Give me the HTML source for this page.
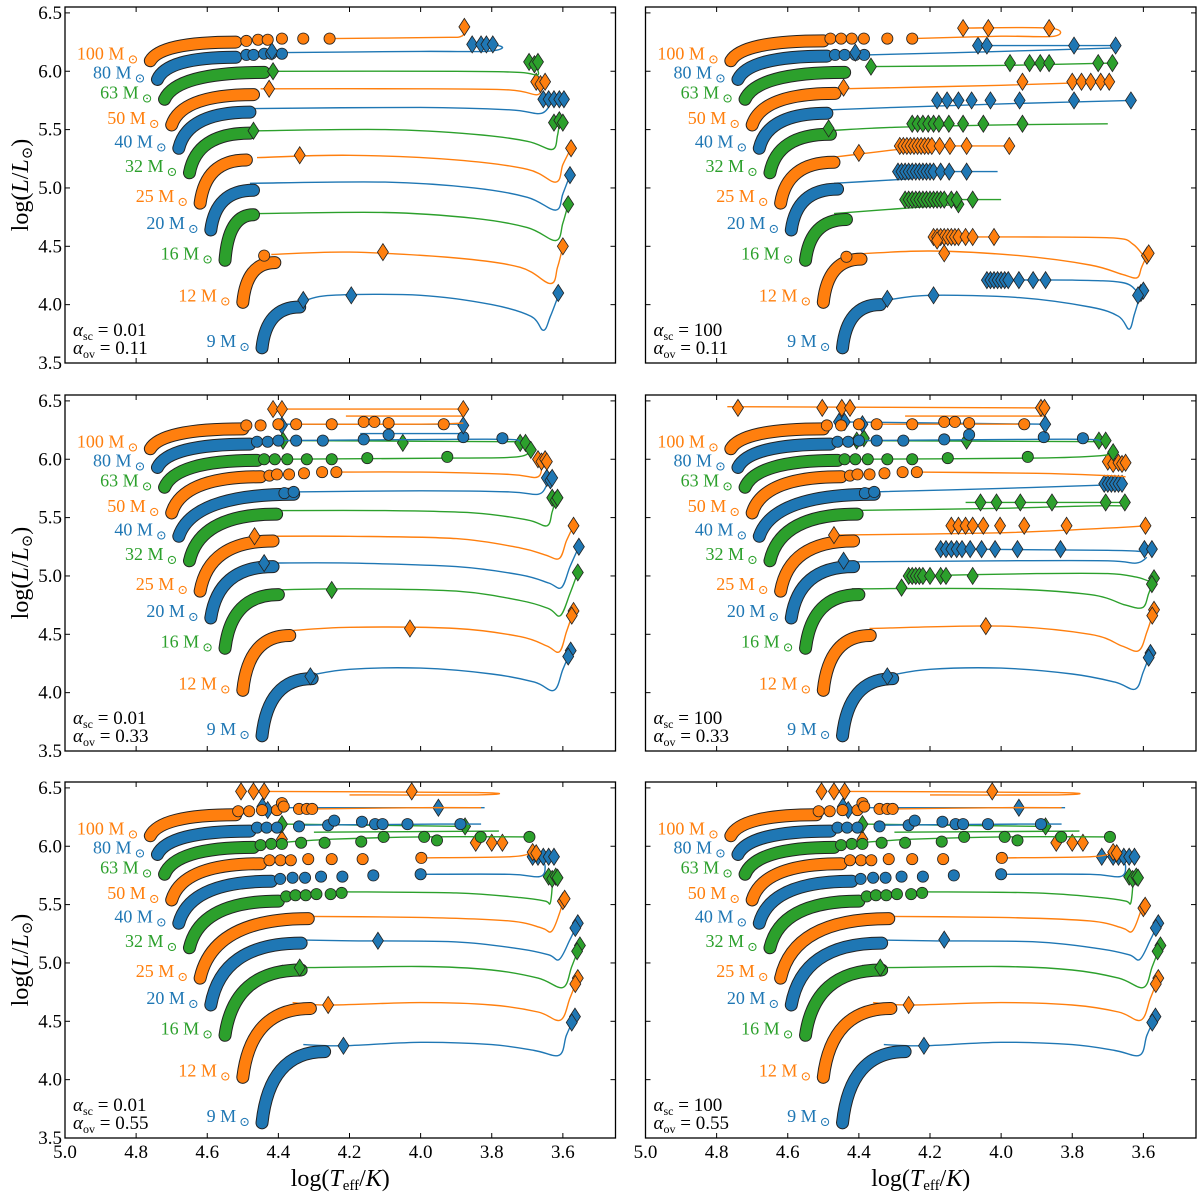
<!DOCTYPE html>
<html><head><meta charset="utf-8"><title>HR diagram grid</title>
<style>
html,body{margin:0;padding:0;background:#fff;}
svg{display:block;font-family:"Liberation Serif","DejaVu Serif",serif;}
</style></head>
<body>
<svg id="fig" width="1200" height="1194" viewBox="0 0 1200 1194" xmlns="http://www.w3.org/2000/svg"></svg>
<script>
// ---------- data ----------
const masses = [9,12,16,20,25,32,40,50,63,80,100];
const colors = ["#1f77b4","#ff7f0e","#2ca02c"];
const xTicks = [5.0,4.8,4.6,4.4,4.2,4.0,3.8,3.6];
const xTickLabels = ["5.0","4.8","4.6","4.4","4.2","4.0","3.8","3.6"];
const yTicks = [3.5,4.0,4.5,5.0,5.5,6.0,6.5];
const yTickLabels = ["3.5","4.0","4.5","5.0","5.5","6.0","6.5"];
const zams = [[4.446,3.63],[4.50,4.02],[4.55,4.38],[4.59,4.64],[4.62,4.87],[4.65,5.13],[4.68,5.34],[4.70,5.54],[4.72,5.76],[4.74,5.93],[4.76,6.09]];
const panelSc = ["0.01","100","0.01","100","0.01","100"];
const panelOv = ["0.11","0.11","0.33","0.33","0.55","0.55"];

// Panel A: sc 0.01, ov 0.11
const A_end = [[4.34,3.98],[4.41,4.36],[4.47,4.77],[4.47,4.98],[4.49,5.24],[4.48,5.47],[4.48,5.65],[4.47,5.80],[4.44,5.99],[4.52,6.12],[4.52,6.25]];
const A_paths = [
 [[[4.33,4.03],[4.25,4.08],[4.0,4.08],[3.8,4.0],[3.69,3.9],[3.655,3.78],[3.635,3.90],[3.61,4.10]]],
 [[[4.42,4.43],[4.2,4.45],[3.9,4.40],[3.72,4.32],[3.635,4.18],[3.615,4.32],[3.60,4.50]]],
 [[[4.46,4.78],[4.1,4.79],[3.85,4.74],[3.70,4.66],[3.62,4.55],[3.60,4.70],[3.585,4.86]]],
 [[[4.48,5.04],[4.1,5.05],[3.85,5.0],[3.70,4.92],[3.62,4.81],[3.60,4.95],[3.58,5.11]]],
 [[[4.46,5.26],[4.2,5.28],[3.9,5.24],[3.7,5.16],[3.62,5.05],[3.60,5.2],[3.577,5.34]]],
 [[[4.47,5.49],[4.1,5.50],[3.85,5.46],[3.70,5.40],[3.63,5.33],[3.615,5.45],[3.61,5.57]]],
 [[[4.48,5.68],[4.0,5.69],[3.75,5.67],[3.66,5.64],[3.63,5.76]]],
 [[[4.45,5.85],[4.0,5.85],[3.75,5.84],[3.67,5.80],[3.663,5.91]]],
 [[[4.42,6.0],[3.9,6.0],[3.72,5.99],[3.67,5.97],[3.68,6.07]]],
 [[[4.38,6.16],[4.0,6.17],[3.82,6.17],[3.77,6.20],[3.80,6.23],[3.87,6.23]]],
 [[[4.25,6.28],[3.95,6.29],[3.885,6.30],[3.877,6.38]]]
];
const A_circ = [[],[[4.44,4.42]],[],[],[],[],[],[],[],
 [[4.49,6.14],[4.47,6.14],[4.44,6.15],[4.42,6.15],[4.39,6.15]],
 [[4.49,6.26],[4.457,6.27],[4.43,6.27],[4.39,6.28],[4.33,6.28],[4.256,6.28]]];
const A_dia = [
 [[4.33,4.04],[4.195,4.08],[3.613,4.10]],
 [[4.106,4.45],[3.60,4.50]],
 [[3.585,4.86]],
 [[3.58,5.11]],
 [[4.34,5.28],[3.577,5.34]],
 [[4.47,5.49],[3.625,5.56],[3.61,5.58],[3.60,5.56]],
 [[3.655,5.76],[3.64,5.76],[3.625,5.76],[3.61,5.76],[3.597,5.76]],
 [[4.426,5.85],[3.675,5.91],[3.663,5.89],[3.65,5.91]],
 [[4.415,6.0],[3.695,6.08],[3.68,6.06],[3.67,6.08]],
 [[4.418,6.17],[3.855,6.23],[3.83,6.23],[3.815,6.23],[3.797,6.23]],
 [[3.877,6.38]]
];

// Panel B: sc 100, ov 0.11
const B_end = [[4.34,4.0],[4.394,4.39],[4.435,4.73],[4.46,4.99],[4.47,5.22],[4.48,5.46],[4.49,5.64],[4.467,5.81],[4.44,5.99],[4.49,6.13],[4.50,6.26]];
const B_paths = [
 [[[4.32,4.04],[4.2,4.08],[3.95,4.06],[3.75,3.98],[3.67,3.90],[3.64,3.79],[3.625,3.92],[3.607,4.10]],[[4.05,4.21],[3.80,4.21],[3.66,4.19],[3.62,4.12]]],
 [[[4.43,4.43],[4.2,4.46],[3.95,4.42],[3.75,4.34],[3.66,4.26],[3.618,4.23],[3.605,4.32],[3.59,4.42]],[[4.19,4.58],[3.9,4.58],[3.68,4.57],[3.63,4.52],[3.60,4.42]]],
 [[[4.47,4.78],[4.3,4.82],[4.12,4.86]],[[4.27,4.90],[4.0,4.90]]],
 [[[4.47,5.04],[4.3,5.07],[4.25,5.08]],[[4.29,5.14],[4.01,5.14]]],
 [[[4.48,5.26],[4.40,5.29],[4.29,5.33]],[[4.29,5.36],[3.97,5.36]]],
 [[[4.49,5.49],[4.3,5.52],[4.0,5.54],[3.70,5.55]]],
 [[[4.48,5.67],[4.3,5.69],[4.0,5.72],[3.633,5.75]]],
 [[[4.45,5.85],[4.0,5.88],[3.69,5.91]]],
 [[[4.37,6.04],[4.0,6.05],[3.687,6.07]]],
 [[[4.38,6.14],[4.0,6.17],[3.68,6.20]],[[4.07,6.22],[3.678,6.22]]],
 [[[4.25,6.28],[4.0,6.30],[3.85,6.30],[3.865,6.37],[4.11,6.37]]]
];
const B_circ = [[],[[4.435,4.41]],[],[],[],[],[],[],[],
 [[4.467,6.14],[4.44,6.14],[4.41,6.14],[4.385,6.14]],
 [[4.48,6.28],[4.45,6.28],[4.42,6.28],[4.386,6.28],[4.32,6.28],[4.25,6.28]]];
const B_dia = [
 [[4.32,4.05],[4.19,4.08],[3.607,4.10],[3.60,4.12],[3.615,4.08],[4.04,4.21],[4.03,4.21],[4.02,4.21],[4.01,4.21],[4.0,4.21],[3.99,4.21],[3.98,4.21],[3.95,4.21],[3.91,4.21],[3.875,4.21]],
 [[4.16,4.44],[3.59,4.42],[3.585,4.44],[4.19,4.58],[4.18,4.58],[4.17,4.58],[4.16,4.58],[4.15,4.58],[4.14,4.58],[4.13,4.58],[4.12,4.58],[4.10,4.58],[4.08,4.58],[4.02,4.58],[4.18,4.55]],
 [[4.12,4.86],[4.27,4.90],[4.26,4.90],[4.25,4.90],[4.24,4.90],[4.23,4.90],[4.22,4.90],[4.21,4.90],[4.20,4.90],[4.19,4.90],[4.18,4.90],[4.17,4.90],[4.16,4.90],[4.14,4.90],[4.125,4.90],[4.08,4.90]],
 [[4.29,5.14],[4.28,5.14],[4.27,5.14],[4.26,5.14],[4.25,5.14],[4.24,5.14],[4.23,5.14],[4.22,5.14],[4.21,5.14],[4.20,5.14],[4.19,5.14],[4.17,5.14],[4.146,5.14],[4.097,5.14]],
 [[4.40,5.30],[4.285,5.36],[4.275,5.36],[4.265,5.36],[4.255,5.36],[4.245,5.36],[4.235,5.36],[4.225,5.36],[4.215,5.36],[4.205,5.36],[4.195,5.36],[4.173,5.36],[4.144,5.36],[4.097,5.36],[3.977,5.36]],
 [[4.485,5.51],[4.25,5.55],[4.235,5.55],[4.22,5.55],[4.205,5.55],[4.19,5.55],[4.175,5.55],[4.147,5.55],[4.107,5.55],[4.05,5.55],[3.94,5.55]],
 [[4.18,5.75],[4.152,5.75],[4.12,5.75],[4.083,5.75],[4.03,5.75],[3.948,5.75],[3.795,5.75],[3.635,5.75]],
 [[4.443,5.86],[3.94,5.91],[3.80,5.91],[3.774,5.91],[3.748,5.91],[3.72,5.91],[3.696,5.91]],
 [[4.366,6.04],[3.975,6.07],[3.92,6.07],[3.89,6.07],[3.865,6.07],[3.727,6.07],[3.687,6.07]],
 [[4.41,6.16],[4.065,6.22],[4.04,6.22],[3.795,6.22],[3.678,6.22]],
 [[4.107,6.37],[4.036,6.37],[3.865,6.37]]
];

// Panel C: sc 0.01, ov 0.33
const C_end = [[4.305,4.12],[4.368,4.49],[4.40,4.84],[4.415,5.08],[4.415,5.30],[4.405,5.53],[4.357,5.70],[4.45,5.85],[4.46,5.99],[4.48,6.13],[4.50,6.26]];
const C_paths = [
 [[[4.31,4.15],[4.2,4.20],[4.0,4.21],[3.8,4.16],[3.68,4.09],[3.625,4.02],[3.60,4.20],[3.578,4.36]]],
 [[[4.37,4.53],[4.2,4.56],[3.9,4.55],[3.72,4.48],[3.645,4.40],[3.61,4.35],[3.59,4.52],[3.57,4.70]]],
 [[[4.42,4.88],[4.2,4.89],[3.9,4.87],[3.72,4.79],[3.64,4.72],[3.607,4.66],[3.58,4.85],[3.558,5.03]]],
 [[[4.44,5.11],[4.2,5.11],[3.9,5.08],[3.72,5.01],[3.64,4.94],[3.604,4.90],[3.58,5.08],[3.555,5.25]]],
 [[[4.467,5.34],[4.2,5.34],[3.9,5.32],[3.72,5.24],[3.65,5.18],[3.61,5.15],[3.59,5.30],[3.57,5.43]]],
 [[[4.43,5.56],[4.1,5.56],[3.85,5.54],[3.70,5.48],[3.645,5.43],[3.63,5.55],[3.62,5.66]]],
 [[[4.36,5.72],[4.0,5.73],[3.75,5.72],[3.67,5.70],[3.645,5.78],[3.64,5.83]]],
 [[[4.24,5.89],[4.0,5.89],[3.75,5.87],[3.67,5.85],[3.66,5.99]]],
 [[[4.44,6.0],[3.9,6.01],[3.73,6.02],[3.69,6.07]],[[4.39,6.16],[3.72,6.15]]],
 [[[4.40,6.16],[3.95,6.17],[3.75,6.17],[3.72,6.15]],[[4.17,6.22],[3.88,6.22]],[[4.40,6.30],[3.88,6.30]]],
 [[[4.35,6.30],[4.0,6.30],[3.88,6.31]],[[4.39,6.43],[3.88,6.43]],[[4.21,6.37],[3.88,6.37]]]
];
const C_circ = [[],[],[],[],[],[],
 [[4.383,5.71],[4.357,5.72]],
 [[4.425,5.86],[4.404,5.87],[4.37,5.87],[4.328,5.88],[4.277,5.89],[4.237,5.89]],
 [[4.44,6.0],[4.41,6.0],[4.375,6.0],[4.32,6.0],[4.25,6.0],[4.15,6.01],[3.925,6.02]],
 [[4.46,6.15],[4.43,6.15],[4.40,6.16],[4.35,6.16],[4.275,6.16],[4.16,6.17],[4.09,6.21],[3.88,6.19],[3.77,6.18]],
 [[4.49,6.29],[4.45,6.29],[4.40,6.30],[4.35,6.30],[4.25,6.30],[4.16,6.32],[4.13,6.32],[4.09,6.31],[3.935,6.30]]];
const C_dia = [
 [[4.31,4.14],[3.578,4.36],[3.585,4.31]],
 [[4.03,4.55],[3.57,4.70],[3.575,4.66]],
 [[4.25,4.88],[3.558,5.03]],
 [[4.44,5.11],[3.555,5.25]],
 [[4.467,5.34],[3.57,5.43]],
 [[3.63,5.67],[3.62,5.65],[3.615,5.67]],
 [[3.645,5.84],[3.635,5.82],[3.63,5.84]],
 [[3.67,6.0],[3.66,5.98],[3.65,6.0],[3.645,5.98]],
 [[4.387,6.16],[4.05,6.14],[3.72,6.14],[3.705,6.14],[3.69,6.08]],
 [[4.39,6.29],[3.88,6.29]],
 [[4.415,6.43],[4.39,6.43],[3.88,6.43]]
];

// Panel D: sc 100, ov 0.33
const D_end = [[4.305,4.12],[4.368,4.49],[4.40,4.84],[4.415,5.08],[4.415,5.30],[4.405,5.53],[4.357,5.70],[4.45,5.85],[4.46,5.99],[4.48,6.13],[4.50,6.26]];
const D_paths = [
 [[[4.31,4.15],[4.2,4.20],[4.0,4.21],[3.8,4.16],[3.68,4.09],[3.623,4.03],[3.60,4.18],[3.58,4.34]]],
 [[[4.37,4.55],[4.0,4.57],[3.75,4.50],[3.66,4.40],[3.613,4.36],[3.59,4.52],[3.57,4.71]]],
 [[[4.42,4.89],[4.0,4.89],[3.75,4.84],[3.65,4.75],[3.602,4.73],[3.585,4.85],[3.57,4.98]],[[4.26,5.0],[3.9,5.02],[3.7,5.02],[3.62,4.99],[3.58,4.95]]],
 [[[4.44,5.12],[4.0,5.13],[3.7,5.13],[3.62,5.11],[3.59,5.16]],[[4.17,5.23],[3.70,5.22],[3.60,5.21],[3.576,5.23]]],
 [[[4.47,5.35],[4.0,5.37],[3.7,5.41],[3.594,5.43]]],
 [[[4.44,5.56],[4.0,5.58],[3.75,5.60],[3.65,5.60]],[[4.10,5.63],[3.652,5.63]]],
 [[[4.36,5.72],[4.0,5.75],[3.7,5.78],[3.66,5.79]]],
 [[[4.24,5.89],[3.9,5.88],[3.7,5.86],[3.65,5.85]]],
 [[[4.44,6.0],[3.9,6.01],[3.72,6.03],[3.685,6.06]],[[4.406,6.16],[3.706,6.15]]],
 [[[4.40,6.16],[3.95,6.17],[3.75,6.17],[3.72,6.15]],[[4.45,6.32],[3.876,6.30]]],
 [[[4.35,6.30],[3.933,6.30]],[[4.77,6.45],[3.878,6.44]],[[4.27,6.37],[3.88,6.37]]]
];
const D_circ = C_circ;
const D_dia = [
 [[4.32,4.14],[3.58,4.34],[3.585,4.30]],
 [[4.043,4.57],[3.57,4.71],[3.575,4.66]],
 [[4.28,4.90],[3.57,4.98],[3.576,4.93],[4.26,5.0],[4.25,5.0],[4.24,5.0],[4.23,5.0],[4.22,5.0],[4.20,5.0],[4.17,5.0],[4.155,5.0],[4.08,5.0]],
 [[4.443,5.13],[4.17,5.23],[4.155,5.23],[4.14,5.23],[4.125,5.23],[4.11,5.23],[4.087,5.23],[4.055,5.23],[4.017,5.23],[3.954,5.23],[3.833,5.23],[3.597,5.23],[3.576,5.23]],
 [[4.47,5.35],[4.14,5.43],[4.12,5.43],[4.10,5.43],[4.08,5.43],[4.05,5.43],[4.003,5.43],[3.935,5.43],[3.816,5.43],[3.594,5.43]],
 [[4.058,5.63],[4.013,5.63],[3.946,5.63],[3.857,5.63],[3.706,5.63],[3.652,5.63]],
 [[3.71,5.79],[3.70,5.79],[3.69,5.79],[3.68,5.79],[3.67,5.79],[3.66,5.79]],
 [[3.70,5.98],[3.685,5.96],[3.67,5.97],[3.66,5.96],[3.65,5.97]],
 [[4.406,6.16],[4.386,6.18],[4.097,6.16],[3.725,6.16],[3.706,6.16],[3.685,6.06]],
 [[4.456,6.32],[4.44,6.32],[4.39,6.30],[3.876,6.30]],
 [[4.74,6.44],[4.503,6.44],[4.448,6.44],[4.425,6.44],[3.888,6.44],[3.878,6.44]]
];

// Panel E: sc 0.01, ov 0.55
const E_end = [[4.27,4.24],[4.31,4.61],[4.336,4.94],[4.336,5.17],[4.316,5.38],[4.40,5.53],[4.42,5.70],[4.45,5.85],[4.47,5.99],[4.48,6.13],[4.52,6.27]];
const E_paths = [
 [[[4.33,4.30],[4.22,4.29],[4.0,4.32],[3.8,4.30],[3.68,4.25],[3.61,4.21],[3.59,4.38],[3.566,4.54]]],
 [[[4.36,4.66],[4.26,4.64],[4.0,4.66],[3.8,4.64],[3.67,4.58],[3.607,4.51],[3.58,4.70],[3.558,4.87]]],
 [[[4.39,4.98],[4.34,4.96],[4.0,4.97],[3.8,4.94],[3.67,4.87],[3.60,4.79],[3.575,4.97],[3.552,5.15]]],
 [[[4.41,5.20],[4.2,5.19],[3.9,5.18],[3.72,5.12],[3.64,5.07],[3.61,5.03],[3.58,5.20],[3.558,5.34]]],
 [[[4.38,5.40],[4.0,5.39],[3.75,5.36],[3.66,5.30],[3.632,5.27],[3.61,5.42],[3.60,5.53]]],
 [[[4.22,5.61],[3.9,5.60],[3.72,5.56],[3.65,5.53],[3.636,5.51],[3.63,5.65],[3.63,5.73]]],
 [[[4.0,5.76],[3.75,5.76],[3.665,5.74],[3.65,5.83],[3.665,5.91]]],
 [[[4.0,5.90],[3.75,5.91],[3.69,5.94]]],
 [[[4.40,6.03],[4.25,6.06],[4.0,6.08],[3.70,6.08]],[[4.30,6.12],[3.78,6.13]],[[4.39,6.19],[3.875,6.17]]],
 [[[4.34,6.18],[3.95,6.19],[3.83,6.19]],[[4.44,6.33],[3.82,6.33]]],
 [[[4.30,6.32],[4.0,6.33],[3.83,6.33]],[[4.45,6.47],[3.84,6.46],[3.84,6.44],[4.2,6.44]]]
];
const E_circ = [[],[],[],[],[],
 [[4.378,5.57],[4.352,5.58],[4.323,5.58],[4.293,5.59],[4.253,5.59],[4.222,5.60]],
 [[4.395,5.72],[4.36,5.73],[4.325,5.73],[4.28,5.74],[4.22,5.74],[4.133,5.75],[4.0,5.76]],
 [[4.425,5.88],[4.394,5.88],[4.365,5.88],[4.316,5.89],[4.25,5.89],[4.163,5.89],[3.998,5.90]],
 [[4.45,6.01],[4.42,6.02],[4.39,6.02],[4.336,6.03],[4.27,6.03],[4.167,6.04],[4.104,6.08],[3.99,6.08],[3.954,6.05],[3.831,6.08],[3.694,6.08]],
 [[4.46,6.16],[4.433,6.16],[4.404,6.16],[4.342,6.17],[4.26,6.18],[4.243,6.22],[4.165,6.21],[4.128,6.19],[4.107,6.19],[4.037,6.19],[3.888,6.19]],
 [[4.513,6.30],[4.482,6.30],[4.446,6.31],[4.404,6.31],[4.39,6.37],[4.385,6.34],[4.342,6.32],[4.32,6.32],[4.305,6.32]]];
const E_dia = [
 [[4.217,4.29],[3.566,4.54],[3.575,4.49]],
 [[4.26,4.64],[3.558,4.87],[3.565,4.82]],
 [[4.34,4.96],[3.552,5.15],[3.56,5.10]],
 [[4.12,5.19],[3.558,5.34],[3.565,5.30]],
 [[3.60,5.53],[3.595,5.55]],
 [[3.64,5.74],[3.63,5.72],[3.62,5.74],[3.615,5.73]],
 [[3.685,5.91],[3.67,5.91],[3.655,5.91],[3.64,5.91],[3.625,5.91]],
 [[3.685,5.95],[3.675,5.94],[4.39,6.06],[3.845,6.03],[3.80,6.03],[3.77,6.03]],
 [[4.39,6.19],[3.875,6.17]],
 [[3.95,6.33],[4.445,6.34],[4.43,6.31]],
 [[4.505,6.47],[4.47,6.47],[4.44,6.47],[4.025,6.47]]
];

// Panel F: sc 100, ov 0.55
const F_end = E_end;
const F_paths = E_paths;
const F_circ = E_circ;
const F_dia = [
 [[4.217,4.29],[3.566,4.54],[3.575,4.49]],
 [[4.26,4.64],[3.558,4.87],[3.565,4.82]],
 [[4.34,4.96],[3.552,5.15],[3.56,5.10]],
 [[4.16,5.20],[3.558,5.34],[3.565,5.30]],
 [[3.60,5.47],[3.595,5.49]],
 [[3.64,5.74],[3.63,5.72],[3.62,5.74],[3.615,5.73]],
 [[3.717,5.91],[3.685,5.91],[3.67,5.91],[3.655,5.91],[3.64,5.91],[3.625,5.91]],
 [[3.685,5.95],[3.675,5.94],[4.39,6.06],[3.845,6.03],[3.80,6.03],[3.77,6.03]],
 [[4.39,6.19],[3.875,6.17]],
 [[3.95,6.33],[4.445,6.34],[4.43,6.31]],
 [[4.505,6.47],[4.47,6.47],[4.44,6.47],[4.025,6.47]]
];

const panelEnds = [A_end,B_end,C_end,D_end,E_end,F_end];
const panelPaths = [A_paths,B_paths,C_paths,D_paths,E_paths,F_paths];
const panelCirc = [A_circ,B_circ,C_circ,D_circ,E_circ,F_circ];
const panelDia = [A_dia,B_dia,C_dia,D_dia,E_dia,F_dia];

// ---------- layout ----------
const NS = "http://www.w3.org/2000/svg";
const svg = document.getElementById('fig');
const colX = [65, 645.5];
const rowTop = [7, 395, 782];
const rowBot = [363, 751, 1138];
const PW = 550.5;
const T_MAX = 5.0, T_MIN = 3.452;
const L_MIN = 3.5, UNIT = 116.7;

function mk(tag, attrs, parent){
  const e = document.createElementNS(NS, tag);
  for (const k in attrs) e.setAttribute(k, attrs[k]);
  (parent||svg).appendChild(e);
  return e;
}
function smooth(pts){
  if (pts.length < 2) return "";
  let d = "M"+pts[0][0].toFixed(1)+","+pts[0][1].toFixed(1);
  for (let i=0;i<pts.length-1;i++){
    const p0 = pts[i-1]||pts[i], p1 = pts[i], p2 = pts[i+1], p3 = pts[i+2]||p2;
    const c1 = [p1[0]+(p2[0]-p0[0])/6, p1[1]+(p2[1]-p0[1])/6];
    const c2 = [p2[0]-(p3[0]-p1[0])/6, p2[1]-(p3[1]-p1[1])/6];
    d += " C"+c1[0].toFixed(1)+","+c1[1].toFixed(1)+" "+c2[0].toFixed(1)+","+c2[1].toFixed(1)+" "+p2[0].toFixed(1)+","+p2[1].toFixed(1);
  }
  return d;
}

for (let p=0;p<6;p++){
  const r = Math.floor(p/2), c = p%2;
  const x0 = colX[c], yT = rowTop[r], yB = rowBot[r];
  const xs = T => x0 + (T_MAX - T)/(T_MAX - T_MIN)*PW;
  const ys = L => yB - (L - L_MIN)*UNIT;
  const g = mk('g', {});
  
  
  const clipId = 'clip'+p;
  const cp = mk('clipPath', {id: clipId}, g);
  mk('rect', {x:x0, y:yT, width:PW, height:yB-yT}, cp);
  const plot = mk('g', {'clip-path':'url(#'+clipId+')'}, g);
  
  

  const ends = panelEnds[p], paths = panelPaths[p], circs = panelCirc[p], dias = panelDia[p];
  for (let m=0;m<masses.length;m++){
    const col = colors[m%3];
    const tg = mk('g', {}, plot);
    
    
    for (const path of paths[m]){
      const pts = path.map(q => [xs(q[0]), ys(q[1])]);
      const ln = mk('path', {d: smooth(pts), fill:'none', stroke:col, 'stroke-width':1.4, 'stroke-linejoin':'round'}, tg);
      
      
    }
    const sx = xs(zams[m][0]), sy = ys(zams[m][1]), ex = xs(ends[m][0]), ey = ys(ends[m][1]);
    const dx = ex - sx, dy = ey - sy;
    const d = "M"+sx+","+sy+" C"+(sx+0.08*dx)+","+(sy+0.65*dy)+" "+(sx+0.4*dx)+","+(sy+dy)+" "+ex+","+ey;
    const b1 = mk('path', {d:d, fill:'none', stroke:'#222', 'stroke-width':13, 'stroke-linecap':'round'}, tg);
    
    
    const b2 = mk('path', {d:d, fill:'none', stroke:col, 'stroke-width':11, 'stroke-linecap':'round'}, tg);
    
    
    for (const q of circs[m]){
      const ci = mk('circle', {cx:xs(q[0]), cy:ys(q[1]), r:5.6, fill:col, stroke:'#222', 'stroke-width':0.8}, tg);
      
      
    }
    for (const q of dias[m]){
      const cx = xs(q[0]), cy = ys(q[1]);
      const dm = mk('polygon', {points:(cx)+","+(cy-8.5)+" "+(cx+5.5)+","+cy+" "+cx+","+(cy+8.5)+" "+(cx-5.5)+","+cy, fill:col, stroke:'#222', 'stroke-width':0.8}, tg);
      
      
    }
  }
  for (let m=0;m<masses.length;m++){
    const t = mk('text', {x: xs(zams[m][0]) - 12, y: ys(zams[m][1]) - 1, 'text-anchor':'end', 'font-size':18, fill: colors[m%3]}, g);
    
    
    t.appendChild(document.createTextNode(masses[m]+" M"));
    const ts = mk('tspan', {'font-size':13, dy:4, dx:3}, t);
    ts.textContent = "⊙";
  }
  const fr = mk('rect', {x:x0, y:yT, width:PW, height:yB-yT, fill:'none', stroke:'#000', 'stroke-width':1.3}, g);
  
  
  for (let i=0;i<xTicks.length;i++){
    const x = xs(xTicks[i]);
    mk('line', {x1:x, x2:x, y1:yB, y2:yB-5, stroke:'#000', 'stroke-width':1}, g);
    mk('line', {x1:x, x2:x, y1:yT, y2:yT+5, stroke:'#000', 'stroke-width':1}, g);
    if (r===2){
      const tl = mk('text', {x:x, y:yB+20, 'text-anchor':'middle', 'font-size':19}, g);
      
      
      tl.textContent = xTickLabels[i];
    }
  }
  for (let i=0;i<yTicks.length;i++){
    const y = ys(yTicks[i]);
    mk('line', {x1:x0, x2:x0+5, y1:y, y2:y, stroke:'#000', 'stroke-width':1}, g);
    mk('line', {x1:x0+PW, x2:x0+PW-5, y1:y, y2:y, stroke:'#000', 'stroke-width':1}, g);
    if (c===0){
      const tl = mk('text', {x:x0-3, y:y+6, 'text-anchor':'end', 'font-size':19}, g);
      
      
      tl.textContent = yTickLabels[i];
    }
  }
  const a1 = mk('text', {x:x0+8, y:yB-27, 'font-size':19}, g);
  
  
  a1.innerHTML = '<tspan font-style="italic">α</tspan><tspan font-size="12" dy="4">sc</tspan><tspan dy="-4"> = '+panelSc[p]+'</tspan>';
  const a2 = mk('text', {x:x0+8, y:yB-9, 'font-size':19}, g);
  
  
  a2.innerHTML = '<tspan font-style="italic">α</tspan><tspan font-size="12" dy="4">ov</tspan><tspan dy="-4"> = '+panelOv[p]+'</tspan>';
  if (c===0){
    const cy = (yT+yB)/2;
    const yt = mk('text', {x:0, y:0, 'font-size':24, 'text-anchor':'middle', transform:'translate(28,'+cy+') rotate(-90)'}, g);
    
    
    yt.innerHTML = 'log(<tspan font-style="italic">L</tspan>/<tspan font-style="italic">L</tspan><tspan font-size="15" dy="4">⊙</tspan><tspan dy="-4">)</tspan>';
  }
  if (r===2){
    const xt = mk('text', {x:x0+PW/2, y:1186, 'font-size':24, 'text-anchor':'middle'}, g);
    
    
    xt.innerHTML = 'log(<tspan font-style="italic">T</tspan><tspan font-size="15" dy="4">eff</tspan><tspan dy="-4">/</tspan><tspan font-style="italic">K</tspan>)';
  }
}
</script>
</body></html>
